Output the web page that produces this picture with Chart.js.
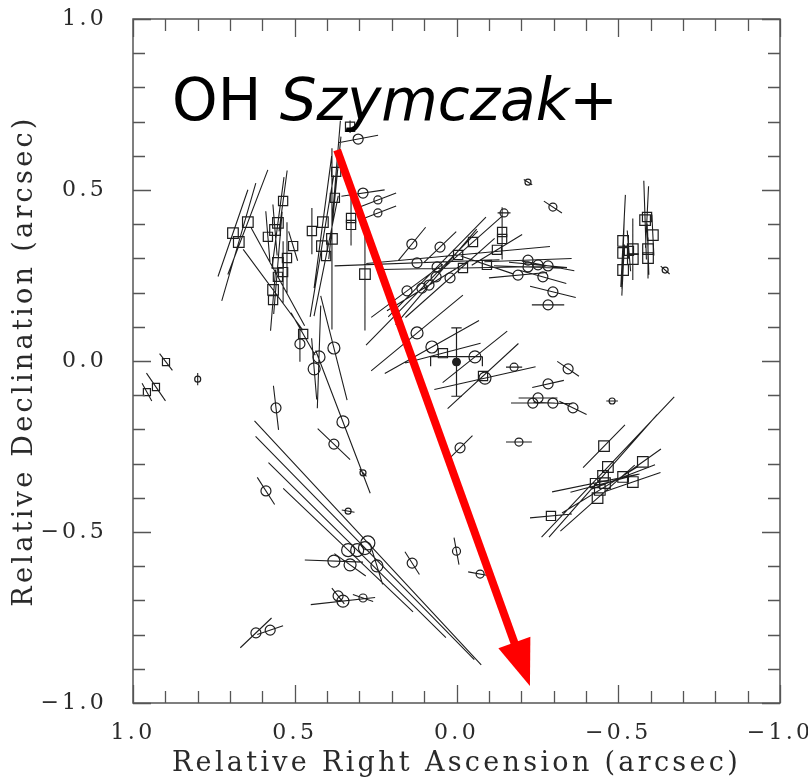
<!DOCTYPE html>
<html>
<head>
<meta charset="utf-8">
<script src="https://cdn.jsdelivr.net/npm/chart.js@4.4.1/dist/chart.umd.min.js"></script>
<style>
  html, body { margin: 0; padding: 0; background: #fff; }
</style>
</head>
<body>
<canvas id="chart" width="808" height="784"></canvas>
<script>
// OH maser spots: offset (arcsec), shape (c = circle, s = square), flux class,
// polarization position angle (deg E of N) and vector length (arcsec)
const spotShape = [
  's','s','s','c','s','s','s','s','s','s','s','s','s','s','s','s','s','s','s','s',
  's','s','s','s','s','s','s','s','c','c','c','c','s','s','c','c','c','c','c','c',
  'c','c','c','c','c','c','s','c','c','s','c','c','c','c','c','c','c','c','c','c',
  'c','c','c','c','c','c','c','c','c','c','c','s','s','s','s','s','s','s','c','c',
  'c','c','c','c','c','c','c','c','c','s','s','s','s','s','s','s','s','s','s','s',
  'c','s','s','s','s','s','s','s','s','s','s','s','c','c','c','c','c','c','c','c',
  'c','c','c','c','c'
];
const spotRA = [
  0.898, 0.929, 0.957, 0.800, 0.691, 0.645, 0.673, 0.536, 0.552, 0.561,
  0.583, 0.505, 0.524, 0.552, 0.536, 0.552, 0.567, 0.567, 0.447, 0.413,
  0.385, 0.416, 0.403, 0.372, 0.376, 0.326, 0.326, 0.329, 0.304, 0.289,
  0.243, 0.243, 0.283, 0.474, 0.484, 0.425, 0.440, 0.379, 0.351, 0.558,
  0.379, 0.289, 0.589, 0.335, 0.122, 0.076, 0.042, -0.057, -0.088, -0.082,
  -0.178, -0.345, -0.283, -0.252, -0.236, -0.298, -0.360, -0.481, -0.193, -0.011,
  0.000, -0.073, 0.138, 0.051, 0.122, 0.060, 0.020, 0.063, 0.107, 0.153,
  0.085, -0.005, -0.020, -0.094, -0.125, -0.051, -0.141, -0.141, -0.147, -0.221,
  -0.221, -0.252, -0.283, -0.190, -0.267, -0.298, -0.283, -0.298, -0.221, -0.515,
  -0.515, -0.515, -0.533, -0.545, -0.545, -0.583, -0.589, -0.607, -0.592, -0.592,
  -0.645, -0.456, -0.576, -0.468, -0.453, -0.428, -0.459, -0.515, -0.545, -0.443,
  -0.436, -0.292, 0.274, 0.283, 0.307, 0.335, 0.379, 0.329, 0.246, 0.137,
  0.366, 0.351, 0.289, 0.620, 0.576
];
const spotDec = [
  -0.003, -0.076, -0.091, -0.053, 0.374, 0.406, 0.348, 0.468, 0.404, 0.383,
  0.363, 0.336, 0.301, 0.287, 0.260, 0.246, 0.208, 0.178, 0.380, 0.406,
  0.357, 0.336, 0.307, 0.553, 0.477, 0.418, 0.398, 0.685, 0.649, 0.491,
  0.471, 0.433, 0.254, 0.079, 0.050, 0.012, -0.023, 0.038, -0.178, -0.137,
  -0.243, -0.327, -0.380, -0.439, 0.082, 0.041, 0.023, 0.012, -0.050, -0.044,
  -0.018, -0.023, -0.067, -0.108, -0.123, -0.123, -0.137, -0.117, -0.237, -0.254,
  -0.556, -0.623, 0.342, 0.333, 0.287, 0.275, 0.243, 0.246, 0.213, 0.205,
  0.222, 0.310, 0.272, 0.281, 0.325, 0.348, 0.377, 0.357, 0.433, 0.295,
  0.275, 0.281, 0.278, 0.251, 0.246, 0.202, 0.164, 0.450, 0.523, 0.351,
  0.316, 0.266, 0.322, 0.327, 0.298, 0.412, 0.421, 0.368, 0.327, 0.301,
  0.266, -0.249, -0.295, -0.310, -0.336, -0.357, -0.357, -0.339, -0.354, -0.377,
  -0.401, -0.453, -0.532, -0.547, -0.553, -0.553, -0.585, -0.596, -0.599, -0.591,
  -0.687, -0.702, -0.693, -0.795, -0.787
];
const spotFlux = [
  1, 1, 1, 1, 3, 3, 3, 2, 3, 3, 2, 2, 2, 3, 2, 2, 3, 2, 2, 3,
  3, 3, 2, 2, 2, 2, 2, 2, 3, 3, 2, 2, 3, 2, 3, 4, 4, 4, 4, 3,
  3, 1, 3, 1, 4, 4, 2, 4, 4, 2, 2, 3, 3, 3, 3, 3, 3, 1, 2, 3,
  2, 2, 3, 3, 3, 3, 3, 3, 3, 3, 3, 2, 2, 2, 2, 2, 2, 2, 2, 3,
  3, 3, 3, 3, 3, 3, 3, 2, 1, 3, 3, 3, 2, 3, 3, 3, 2, 3, 3, 3,
  1, 3, 3, 3, 3, 2, 3, 3, 3, 3, 3, 2, 6, 5, 5, 5, 4, 4, 4, 3,
  3, 4, 2, 3, 3
];
const polPA = [
  39, 36, 30, 0, -20, -22, -17, -8, -8, 5, 5, 18, 0, -5, 0, 30, 38, -5, 0, -8,
  0, -10, -12, -5, -6, 0, 0, 0, -80, -82, -70, -70, 0, 31, 0, -2, 5, 15, 22, 7,
  48, 45, 34, 80, -52, -62, -76, -53, -78, -49, 90, 57, -78, 90, 90, 88, 65, 90, 90, -47,
  11, 80, -41, -48, -88, -46, -50, -42, -46, -55, -60, -85, -89, 72, -60, -50, 0, 0, 90, -88,
  88, 85, 80, -85, 75, 77, 90, 58, 60, -3, -2, -3, 5, 0, 0, 2, -3, 3, 2, 0,
  50, -46, -56, -45, -43, -79, -76, -70, -72, -60, -50, -85, 44.5, 46, 47, 48, 88, 56, 18, 34,
  40, -84, 72, -48, -72
];
const polLen = [
  0.063, 0.10, 0.06, 0.036, 0.27, 0.33, 0.36, 0.18, 0.27, 0.15,
  0.15, 0.09, 0.21, 0.30, 0.18, 0.33, 0.30, 0.18, 0.135, 0.39,
  0.53, 0.42, 0.36, 0.30, 0.36, 0.12, 0.12, 0.036, 0.125, 0.135,
  0.12, 0.12, 0.33, 0.145, 0.105, 0.30, 0.18, 0.315, 0.45, 0.13,
  0.135, 0.03, 0.096, 0.04, 0.36, 0.33, 0.24, 0.25, 0.32, 0.29,
  0.05, 0.08, 0.10, 0.12, 0.135, 0.12, 0.093, 0.036, 0.08, 0.105,
  0.08, 0.075, 0.13, 0.135, 0.51, 0.42, 0.36, 0.375, 0.48, 0.27,
  0.30, 0.57, 0.51, 0.17, 0.18, 0.24, 0.145, 0.12, 0.04, 0.27,
  0.21, 0.18, 0.165, 0.18, 0.15, 0.145, 0.10, 0.066, 0.03, 0.27,
  0.21, 0.15, 0.12, 0.18, 0.12, 0.23, 0.18, 0.12, 0.15, 0.12,
  0.036, 0.18, 0.135, 0.58, 0.49, 0.27, 0.22, 0.21, 0.18, 0.27,
  0.30, 0.13, 1.00, 0.94, 0.75, 0.54, 0.18, 0.117, 0.114, 0.08,
  0.06, 0.20, 0.066, 0.13, 0.084
];

// reference position with its positional uncertainty
const refRA = [0.0];
const refDec = [-0.003];
const refErrRA = [0.08];
const refErrDec = [0.10];

// proper-motion arrow (start, end)
const arrowRA = [0.369, -0.227];
const arrowDec = [0.617, -0.950];

const tickValues = [-1.0, -0.5, 0.0, 0.5, 1.0];

const circleRadius = [0, 3, 4, 5, 6, 6.5, 7];
const squareRadius = [0, 5, 6.5, 7.5, 8, 8, 8];

// polarization vectors as one broken line
const vecPoints = [];
spotRA.forEach((ra, i) => {
  const h = polLen[i] / 2;
  const a = polPA[i] * Math.PI / 180;
  const dx = h * Math.sin(a), dy = h * Math.cos(a);
  vecPoints.push({ x: ra + dx, y: spotDec[i] + dy });
  vecPoints.push({ x: ra - dx, y: spotDec[i] - dy });
  vecPoints.push({ x: ra, y: null });
});

// error bars with small end caps
const errPoints = [];
refRA.forEach((ra, i) => {
  const dec = refDec[i], ex = refErrRA[i], ey = refErrDec[i];
  const cx = 0.016, cy = 0.012;
  errPoints.push({ x: ra, y: dec + ey }, { x: ra, y: dec - ey }, { x: ra, y: null });
  errPoints.push({ x: ra + cx, y: dec + ey }, { x: ra - cx, y: dec + ey }, { x: ra, y: null });
  errPoints.push({ x: ra + cx, y: dec - ey }, { x: ra - cx, y: dec - ey }, { x: ra, y: null });
  errPoints.push({ x: ra + ex, y: dec + 0.016 }, { x: ra - ex, y: dec + 0.016 }, { x: ra, y: null });
  errPoints.push({ x: ra + ex, y: dec + 0.016 }, { x: ra + ex, y: dec - cy }, { x: ra, y: null });
  errPoints.push({ x: ra - ex, y: dec + 0.016 }, { x: ra - ex, y: dec - cy }, { x: ra, y: null });
});

const circles = [], circleR = [], squares = [], squareR = [];
spotRA.forEach((ra, i) => {
  if (spotShape[i] === 'c') {
    circles.push({ x: ra, y: spotDec[i] });
    circleR.push(circleRadius[spotFlux[i]]);
  } else {
    squares.push({ x: ra, y: spotDec[i] });
    squareR.push(squareRadius[spotFlux[i]]);
  }
});

// the shaft stops a little short of the tip, the head is drawn on top
const shaftFrac = 0.93;
const arrowShaft = [
  { x: arrowRA[0], y: arrowDec[0] },
  { x: arrowRA[0] + (arrowRA[1] - arrowRA[0]) * shaftFrac,
    y: arrowDec[0] + (arrowDec[1] - arrowDec[0]) * shaftFrac }
];

const INK = '#1e1e1e';
const AXIS = '#555';

const fmt = v => (v < 0 ? '\u2212' : '') + Math.abs(v).toFixed(1);

const frameTicks = {
  id: 'frameTicks',
  beforeDraw(chart) {
    chart.ctx.letterSpacing = '3.3px';
  },
  afterDatasetsDraw(chart) {
    const { ctx, chartArea: a, scales: { x, y } } = chart;
    ctx.save();
    ctx.letterSpacing = '0px';

    // arrow head
    const p0 = { x: x.getPixelForValue(arrowRA[0]), y: y.getPixelForValue(arrowDec[0]) };
    const p1 = { x: x.getPixelForValue(arrowRA[1]), y: y.getPixelForValue(arrowDec[1]) };
    const len = Math.hypot(p1.x - p0.x, p1.y - p0.y);
    const ux = (p1.x - p0.x) / len, uy = (p1.y - p0.y) / len;
    const hl = 46, hw = 17;
    ctx.fillStyle = '#ff0000';
    ctx.beginPath();
    ctx.moveTo(p1.x, p1.y);
    ctx.lineTo(p1.x - ux * hl - uy * hw, p1.y - uy * hl + ux * hw);
    ctx.lineTo(p1.x - ux * hl + uy * hw, p1.y - uy * hl - ux * hw);
    ctx.closePath();
    ctx.fill();

    // frame and inward ticks on all four sides
    ctx.strokeStyle = AXIS;
    ctx.lineWidth = 1.5;
    ctx.strokeRect(a.left, a.top, a.right - a.left, a.bottom - a.top);
    ctx.lineWidth = 1.3;
    ctx.beginPath();
    for (let i = -10; i <= 10; i++) {
      const v = i / 10;
      const t = i % 5 === 0 ? 18 : 12;
      const px = Math.round(x.getPixelForValue(v)) + 0.5;
      const py = Math.round(y.getPixelForValue(v)) + 0.5;
      ctx.moveTo(px, a.bottom); ctx.lineTo(px, a.bottom - t);
      ctx.moveTo(px, a.top); ctx.lineTo(px, a.top + t);
      ctx.moveTo(a.left, py); ctx.lineTo(a.left + t, py);
      ctx.moveTo(a.right, py); ctx.lineTo(a.right - t, py);
    }
    ctx.stroke();

    // label
    ctx.fillStyle = '#000';
    ctx.textBaseline = 'alphabetic';
    ctx.textAlign = 'left';
    let tx = a.left + 39;
    const ty = a.top + 101;
    const parts = [['', 'OH '], ['italic ', 'Szymczak'], ['', '+']];
    parts.forEach(([style, s]) => {
      ctx.font = style + '58px "DejaVu Sans"';
      ctx.fillText(s, tx, ty);
      tx += ctx.measureText(s).width;
    });
    ctx.restore();
  }
};

const tickFont = { family: 'DejaVu Serif', size: 22 };
const titleFont = { family: 'DejaVu Serif', size: 27 };

new Chart(document.getElementById('chart'), {
  type: 'scatter',
  data: {
    datasets: [
      {
        label: 'arrow',
        type: 'line',
        data: arrowShaft,
        borderColor: '#ff0000',
        borderWidth: 8,
        borderCapStyle: 'butt',
        pointRadius: 0,
        order: 0
      },
      {
        label: 'reference',
        data: refRA.map((ra, i) => ({ x: ra, y: refDec[i] })),
        pointStyle: 'circle',
        pointRadius: 4,
        backgroundColor: INK,
        borderColor: INK,
        borderWidth: 1,
        order: 1
      },
      {
        label: 'circles',
        data: circles,
        pointStyle: 'circle',
        pointRadius: circleR,
        backgroundColor: 'rgba(0,0,0,0)',
        borderColor: INK,
        borderWidth: 1.2,
        order: 2
      },
      {
        label: 'squares',
        data: squares,
        pointStyle: 'rect',
        pointRadius: squareR,
        backgroundColor: 'rgba(0,0,0,0)',
        borderColor: INK,
        borderWidth: 1.2,
        order: 3
      },
      {
        label: 'errors',
        type: 'line',
        data: errPoints,
        borderColor: INK,
        borderWidth: 1.2,
        pointRadius: 0,
        spanGaps: false,
        order: 4
      },
      {
        label: 'vectors',
        type: 'line',
        data: vecPoints,
        borderColor: INK,
        borderWidth: 1.1,
        pointRadius: 0,
        spanGaps: false,
        order: 5
      }
    ]
  },
  options: {
    responsive: false,
    animation: false,
    events: [],
    layout: { padding: { top: 19, right: 28, bottom: 0, left: 0 } },
    plugins: { legend: { display: false }, tooltip: { enabled: false } },
    scales: {
      x: {
        type: 'linear',
        reverse: true,
        min: -1, max: 1,
        afterFit: s => {
          s.height = 81;
          s.paddingLeft = 0; s.paddingRight = 0;
        },
        afterBuildTicks: s => { s.ticks = tickValues.map(v => ({ value: v })); },
        grid: { display: false, drawTicks: false },
        border: { display: false },
        ticks: {
          autoSkip: false, maxRotation: 0, minRotation: 0,
          padding: 17, color: '#2a2a2a', font: tickFont,
          callback: v => fmt(v)
        },
        title: {
          display: true,
          text: 'Relative Right Ascension (arcsec)',
          color: '#2a2a2a', font: titleFont,
          padding: { top: 0, bottom: 4 }
        }
      },
      y: {
        type: 'linear',
        min: -1, max: 1,
        afterFit: s => {
          s.width = 133;
          s.paddingTop = 0; s.paddingBottom = 0;
        },
        afterBuildTicks: s => { s.ticks = tickValues.map(v => ({ value: v })); },
        grid: { display: false, drawTicks: false },
        border: { display: false },
        ticks: {
          autoSkip: false,
          padding: 26, color: '#2a2a2a', font: tickFont,
          callback: v => fmt(v)
        },
        title: {
          display: true,
          text: 'Relative Declination (arcsec)',
          color: '#2a2a2a', font: titleFont,
          padding: { top: 9, bottom: 0 }
        }
      }
    }
  },
  plugins: [frameTicks]
});
</script>
</body>
</html>
